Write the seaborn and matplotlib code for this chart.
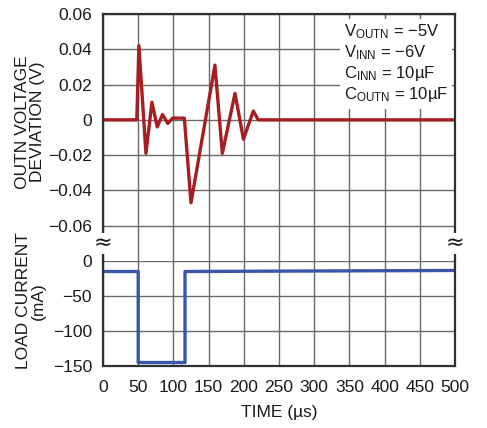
import matplotlib
matplotlib.use('Agg')
import matplotlib.pyplot as plt
import seaborn as sns
import pandas as pd

# OUTN voltage deviation (V) vs time (us)
v_time = [0, 48, 51, 61, 69.5, 77, 84.5, 92, 99, 115.5, 125, 159, 169.5, 187.5, 199.5, 213.5, 220.5, 500]
v_dev = [0, 0, 0.042, -0.019, 0.010, -0.004, 0.003, -0.002, 0.001, 0.001, -0.047, 0.031, -0.019, 0.015, -0.011, 0.005, 0, 0]

# load current (mA) vs time (us)
i_time = [0, 50, 50, 116.5, 116.5, 500]
i_load = [-15, -15, -145, -145, -15, -13.5]

x_ticks = [0, 50, 100, 150, 200, 250, 300, 350, 400, 450, 500]
v_ticks = [0.06, 0.04, 0.02, 0, -0.02, -0.04, -0.06]
v_ticklabels = ['0.06', '0.04', '0.02', '0', '\u22120.02', '\u22120.04', '\u22120.06']
i_ticks = [0, -50, -100, -150]
i_ticklabels = ['0', '\u221250', '\u2212100', '\u2212150']

conditions = ['$\\mathregular{V_{OUTN}}$ = \u22125V',
              '$\\mathregular{V_{INN}}$ = \u22126V',
              '$\\mathregular{C_{INN}}$ = 10\u00b5F',
              '$\\mathregular{C_{OUTN}}$ = 10\u00b5F']

sns.set_style('white')
plt.rcParams['font.family'] = ['Liberation Sans', 'DejaVu Sans']
plt.rcParams['mathtext.fontset'] = 'custom'
plt.rcParams['mathtext.rm'] = 'Liberation Sans'
plt.rcParams['axes.unicode_minus'] = True

W, H = 487, 428
fig = plt.figure(figsize=(W / 100, H / 100), dpi=100)
left, right, top, mid, bottom = 103, 455, 14, 261, 366
ax1 = fig.add_axes([left / W, 1 - mid / H, (right - left) / W, (mid - top) / H])
ax2 = fig.add_axes([left / W, 1 - bottom / H, (right - left) / W, (bottom - mid) / H])

grid_kw = dict(color='#6a6a6a', linewidth=1.0)
spine_c = '#303030'
tick_fs = 12.5
txt_c = '#1a1a1a'

v_df = pd.DataFrame({'time': v_time, 'dev': v_dev})
i_df = pd.DataFrame({'time': i_time, 'load': i_load})

sns.lineplot(data=v_df, x='time', y='dev', ax=ax1, color='#a51e22', linewidth=2.4,
             sort=False, estimator=None)
sns.lineplot(data=i_df, x='time', y='load', ax=ax2, color='#3a56a8', linewidth=2.4,
             sort=False, estimator=None)

for ax in (ax1, ax2):
    ax.set_xlim(0, 500)
    ax.set_xticks(x_ticks)
    ax.grid(True, **grid_kw)
    ax.set_axisbelow(True)
    ax.set_xlabel('')
    ax.set_ylabel('')
    ax.tick_params(axis='both', length=0, labelsize=tick_fs, labelcolor=txt_c)
    ax.tick_params(axis='y', pad=8)
    ax.tick_params(axis='x', pad=10)
    for s in ax.spines.values():
        s.set_color(spine_c)
        s.set_linewidth(1.6)

ax1.set_ylim(-0.08, 0.06)
ax1.set_yticks(v_ticks)
ax1.set_yticklabels(v_ticklabels)
ax1.tick_params(axis='x', labelbottom=False)
ax1.spines['bottom'].set_visible(False)

ax2.set_ylim(-150, 0)
ax2.set_yticks(i_ticks)
ax2.set_yticklabels(i_ticklabels)
ax2.set_xticklabels([str(t) for t in x_ticks])
ax2.spines['top'].set_visible(False)

# axis break marks on the left and right spines
for xpos in (0, 1):
    ax1.text(xpos, -0.07, '\u2248', transform=ax1.get_yaxis_transform(), ha='center', va='center',
             fontsize=16, color=txt_c, family='DejaVu Sans',
             bbox=dict(facecolor='white', edgecolor='none', pad=0.5), clip_on=False, zorder=5)

# conditions box
ax1.text(241 / 352, 0.965, '\n'.join(conditions), transform=ax1.transAxes, ha='left', va='top',
         fontsize=12, linespacing=1.15, color=txt_c,
         bbox=dict(facecolor='white', edgecolor='none', pad=3), zorder=4)

fig.text(30 / W, 1 - 122 / H, 'OUTN VOLTAGE\nDEVIATION (V)', rotation=90, ha='center', va='center',
         multialignment='center', fontsize=12.5, linespacing=1.0, color=txt_c)
fig.text(31 / W, 1 - 301 / H, 'LOAD CURRENT\n(mA)', rotation=90, ha='center', va='center',
         multialignment='center', fontsize=12.5, linespacing=1.0, color=txt_c)
fig.text(279 / W, 1 - 413 / H, 'TIME (\u00b5s)', ha='center', va='center', fontsize=12.5, color=txt_c)

fig.savefig('out.png', dpi=100)
